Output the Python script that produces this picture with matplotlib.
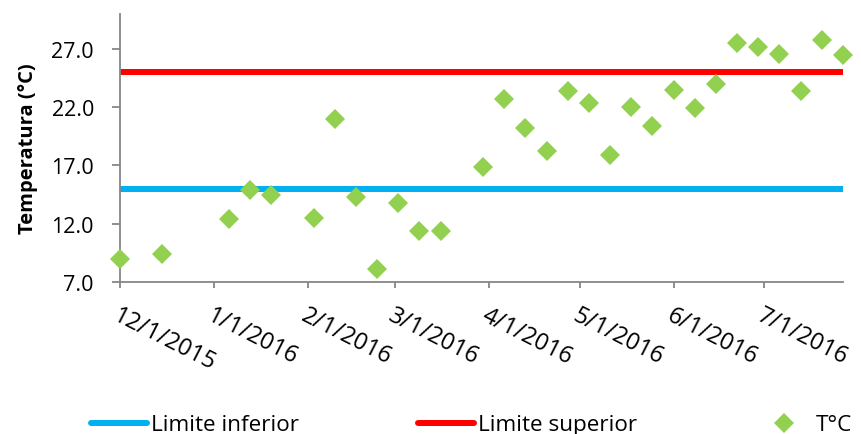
import numpy as np
import matplotlib
matplotlib.use('Agg')
import matplotlib.pyplot as plt
import pandas as pd

# weekly readings (date, temperature)
dates = ['2015-12-01', '2015-12-15', '2016-01-06', '2016-01-13', '2016-01-20',
         '2016-02-03', '2016-02-10', '2016-02-17', '2016-02-24', '2016-03-02',
         '2016-03-09', '2016-03-16', '2016-03-30', '2016-04-06', '2016-04-13',
         '2016-04-20', '2016-04-27', '2016-05-04', '2016-05-11', '2016-05-18',
         '2016-05-25', '2016-06-01', '2016-06-08', '2016-06-15', '2016-06-22',
         '2016-06-29', '2016-07-06', '2016-07-13', '2016-07-20', '2016-07-27']
temps = [9.0, 9.4, 12.4, 14.9, 14.5,
         12.5, 21.0, 14.3, 8.1, 13.8,
         11.4, 11.4, 16.9, 22.7, 20.2,
         18.2, 23.4, 22.4, 17.9, 22.0,
         20.4, 23.5, 21.9, 24.0, 27.5,
         27.2, 26.6, 23.4, 27.8, 26.5]
lower_limit = 15.0
upper_limit = 25.0
tick_dates = ['2015-12-01', '2016-01-01', '2016-02-01', '2016-03-01',
              '2016-04-01', '2016-05-01', '2016-06-01', '2016-07-01']
tick_labels = ['12/1/2015', '1/1/2016', '2/1/2016', '3/1/2016',
               '4/1/2016', '5/1/2016', '6/1/2016', '7/1/2016']
y_ticks = [7.0, 12.0, 17.0, 22.0, 27.0]

plt.rcParams['font.family'] = ['Open Sans', 'DejaVu Sans']

x = pd.to_datetime(dates)
xt = pd.to_datetime(tick_dates)
axis_grey = '#868686'

fig = plt.figure(figsize=(8.61, 4.35), dpi=100)
ax = fig.add_axes([120 / 861, 1 - 283 / 435, (843 - 120) / 861, (283 - 15) / 435])

ax.plot([x[0], x[-1]], [lower_limit, lower_limit], color='#00B0F0', lw=4.3,
        solid_capstyle='round', label='Limite inferior')
ax.plot([x[0], x[-1]], [upper_limit, upper_limit], color='#FF0000', lw=4.3,
        solid_capstyle='round', label='Limite superior')
ax.plot(x, temps, linestyle='none', marker='D', ms=10, color='#92D050',
        markeredgewidth=0, label='T°C', clip_on=False, zorder=5)

ax.set_xlim(x[0], x[-1])
ax.set_ylim(7, 30)
ax.set_yticks(y_ticks)
ax.set_yticklabels(['%.1f' % v for v in y_ticks], fontsize=15.5)
ax.set_xticks(xt)
ax.set_xticklabels(tick_labels, fontsize=17, rotation=-27, ha='left', va='top',
                   rotation_mode='anchor')
ax.tick_params(axis='x', length=4.3, width=1.3, color=axis_grey, pad=11)
ax.tick_params(axis='y', length=5.8, width=1.3, color=axis_grey, pad=13)
ax.set_ylabel('Temperatura (°C)', fontsize=14.5, fontweight='bold')
ax.yaxis.set_label_coords((38 - 120) / 723, 0.5)

for s in ['top', 'right']:
    ax.spines[s].set_visible(False)
for s in ['left', 'bottom']:
    ax.spines[s].set_color(axis_grey)
    ax.spines[s].set_linewidth(1.3)

fig.legend(loc='center left', bbox_to_anchor=(91 / 861, 9 / 435, 761 / 861, 0),
           mode='expand', ncol=3, frameon=False, fontsize=16.2, handlelength=2.5,
           handletextpad=0.15, borderaxespad=0.0, borderpad=0.0)

fig.savefig('out.png', dpi=100)
